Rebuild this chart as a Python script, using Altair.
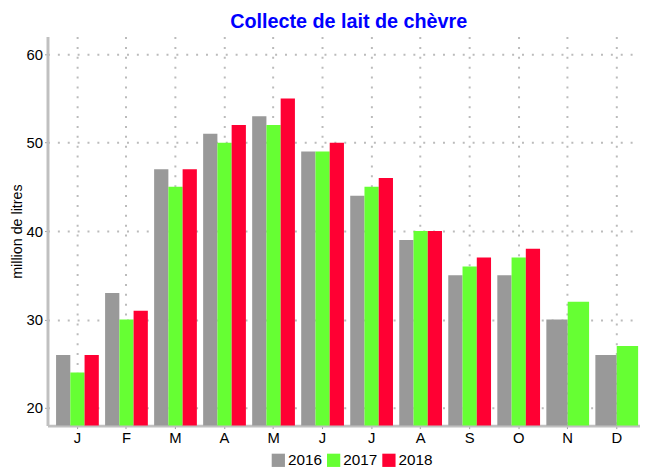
import altair as alt
import pandas as pd

months = ["Jan", "Feb", "Mar", "Apr", "May", "Jun", "Jul", "Aug", "Sep", "Oct", "Nov", "Dec"]
month_labels = ["J", "F", "M", "A", "M", "J", "J", "A", "S", "O", "N", "D"]
years = ["2016", "2017", "2018"]
v2016 = [26, 33, 47, 51, 53, 49, 44, 39, 35, 35, 30, 26]
v2017 = [24, 30, 45, 50, 52, 49, 45, 40, 36, 37, 32, 27]
v2018 = [26, 31, 47, 52, 55, 50, 46, 40, 37, 38, None, None]
colors = ["#999999", "#66FF33", "#FF0033"]
y_ticks = [20, 30, 40, 50, 60]

series = {"2016": v2016, "2017": v2017, "2018": v2018}
rows = []
for yr in years:
    for m, v in zip(months, series[yr]):
        if v is not None:
            rows.append({"month": m, "year": yr, "value": v})
df = pd.DataFrame(rows)

# months with all three years vs. months with only two years
full_months = [m for m, v in zip(months, v2018) if v is not None]
part_months = [m for m, v in zip(months, v2018) if v is None]
df_full = df[df["month"].isin(full_months)]
df_part = df[df["month"].isin(part_months)]

FONT = "Liberation Sans"
label_expr = "[" + ",".join(f"'{l}'" for l in month_labels) + "][indexof([" + ",".join(f"'{m}'" for m in months) + "], datum.value)]"

x_enc = alt.X(
    "month:N",
    sort=months,
    scale=alt.Scale(domain=months, paddingInner=0.128, paddingOuter=0.1065, align=0.82),
    axis=alt.Axis(
        title=None, labelExpr=label_expr, labelAngle=0, labelFont=FONT, labelFontSize=15,
        labelColor="#000000", labelPadding=2, tickSize=3, tickColor="#999999",
        domainColor="#c0c0c0", domainWidth=3,
        grid=True, gridColor="#bbbbbb", gridWidth=2, gridDash=[2, 8],
    ),
)
y_enc = alt.Y(
    "value:Q",
    scale=alt.Scale(domain=[18, 62], nice=False, zero=False),
    axis=alt.Axis(
        title="million de litres", values=y_ticks, titleFont=FONT, titleFontSize=14.5,
        titleFontWeight="normal", titleColor="#000000", titlePadding=2,
        labelFont=FONT, labelFontSize=15, labelColor="#000000", labelPadding=2,
        tickSize=3, tickColor="#999999", domainColor="#c0c0c0", domainWidth=3,
        grid=True, gridColor="#bbbbbb", gridWidth=2, gridDash=[2, 8],
    ),
)
color_enc = alt.Color(
    "year:N",
    scale=alt.Scale(domain=years, range=colors),
    legend=alt.Legend(
        title=None, orient="none", legendX=226, legendY=421, direction="horizontal",
        symbolType="square", symbolSize=180, symbolStrokeWidth=0, symbolOpacity=1,
        labelFont=FONT, labelFontSize=15.5, labelColor="#000000", labelOffset=2,
        columnPadding=4, padding=0,
    ),
)

full = alt.Chart(df_full).mark_bar(clip=True).encode(
    x=x_enc, y=y_enc, color=color_enc,
    xOffset=alt.XOffset("year:N", scale=alt.Scale(domain=years, paddingInner=0, paddingOuter=0)),
)
part = alt.Chart(df_part).mark_bar(clip=True).encode(
    x=x_enc, y=y_enc, color=color_enc,
    xOffset=alt.XOffset("year:N", scale=alt.Scale(domain=years[:2], paddingInner=0, paddingOuter=0)),
)

chart = (
    alt.layer(full, part)
    .resolve_scale(xOffset="independent")
    .properties(
        width=600, height=394,
        autosize=alt.AutoSizeParams(type="none"),
        padding={"left": 40, "top": 26, "right": 0, "bottom": 39},
        title=alt.TitleParams(
            "Collecte de lait de chèvre", color="#0000FF", fontSize=20, fontWeight="bold",
            font=FONT, anchor="middle", offset=5, dx=5,
        ),
    )
    .configure_view(stroke=None)
    .configure_axis(labelFont=FONT)
)

chart.save("out.html", embed_options={"renderer": "svg", "actions": False})
